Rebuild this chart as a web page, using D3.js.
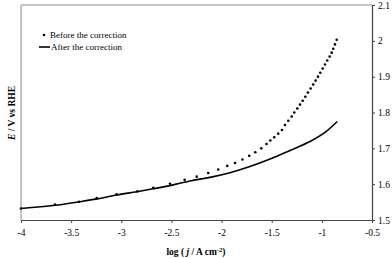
<!DOCTYPE html>
<html>
<head>
<meta charset="utf-8">
<script src="https://cdn.jsdelivr.net/npm/d3@7"></script>
<style>
  body { margin: 0; background: #fff; }
  svg { display: block; font-family: "Liberation Serif", "Times New Roman", serif; }
</style>
</head>
<body>
<div id="chart"></div>
<script>
// data: log(j / A cm-2) and E / V vs RHE
var beforeLogJ = [-4.0, -3.661, -3.422, -3.245, -3.046, -2.840, -2.681, -2.514, -2.368, -2.248,
  -2.133, -2.033, -1.943, -1.866, -1.792, -1.724, -1.664, -1.604, -1.552, -1.514,
  -1.475, -1.435, -1.398, -1.368, -1.335, -1.301, -1.275, -1.245, -1.218, -1.191,
  -1.165, -1.139, -1.112, -1.086, -1.062, -1.039, -1.016, -0.992, -0.969, -0.946,
  -0.922, -0.902, -0.886, -0.869, -0.852];
var beforeE = [1.532, 1.543, 1.551, 1.561, 1.572, 1.580, 1.590, 1.601, 1.612, 1.621,
  1.631, 1.641, 1.651, 1.659, 1.669, 1.679, 1.689, 1.700, 1.712, 1.722,
  1.731, 1.741, 1.751, 1.765, 1.777, 1.789, 1.800, 1.811, 1.822, 1.833,
  1.844, 1.856, 1.867, 1.878, 1.889, 1.900, 1.911, 1.923, 1.934, 1.945,
  1.956, 1.967, 1.978, 1.990, 2.003];

var afterLogJ = [-4.0, -3.661, -3.412, -3.242, -3.043, -2.843, -2.684, -2.514, -2.315, -2.116,
  -1.916, -1.717, -1.517, -1.318, -1.119, -0.949, -0.846];
var afterE = [1.532, 1.541, 1.551, 1.559, 1.570, 1.579, 1.587, 1.596, 1.609, 1.619,
  1.632, 1.649, 1.670, 1.694, 1.719, 1.749, 1.775];

var xTicks = [-4, -3.5, -3, -2.5, -2, -1.5, -1, -0.5];
var yTicks = [1.5, 1.6, 1.7, 1.8, 1.9, 2, 2.1];
var legendLabels = ["Before the correction", "After the correction"];

// settings
var margin = {top: 5, right: 20, bottom: 38, left: 21},
    width = 392 - margin.left - margin.right,
    height = 258 - margin.top - margin.bottom;

var svg = d3.select("#chart")
    .append("svg")
    .attr("width", width + margin.left + margin.right)
    .attr("height", height + margin.top + margin.bottom)
    .append("g")
    .attr("transform", "translate(" + margin.left + "," + margin.top + ")");

var x = d3.scaleLinear()
    .domain([-4, -0.5])
    .range([0, width]);

var y = d3.scaleLinear()
    .domain([1.5, 2.1])
    .range([height, 0]);

// top and left frame lines (grey)
svg.append("line")
    .attr("x1", 0).attr("x2", width)
    .attr("y1", 0).attr("y2", 0)
    .attr("stroke", "#8c8c8c").attr("stroke-width", 1);
svg.append("line")
    .attr("x1", 0).attr("x2", 0)
    .attr("y1", 0).attr("y2", height)
    .attr("stroke", "#8c8c8c").attr("stroke-width", 1);

var xAxis = svg.append("g")
    .attr("transform", "translate(0," + height + ")")
    .call(d3.axisBottom(x).tickValues(xTicks).tickSize(3).tickSizeOuter(0).tickPadding(6)
      .tickFormat(function (d) { return String(d); }));

var yAxis = svg.append("g")
    .attr("transform", "translate(" + width + ",0)")
    .call(d3.axisRight(y).tickValues(yTicks).tickSize(3).tickSizeOuter(0).tickPadding(3)
      .tickFormat(function (d) { return String(d); }));

[xAxis, yAxis].forEach(function (g) {
  g.select(".domain").attr("stroke", "#444").attr("stroke-width", 1.2);
  g.selectAll(".tick line").attr("stroke", "#444");
  g.selectAll("text")
    .attr("fill", "#000")
    .style("font-family", "'Liberation Serif', serif")
    .style("font-size", "9.5px");
});

// after the correction: solid line
var line = d3.line()
    .x(function (d) { return x(d[0]); })
    .y(function (d) { return y(d[1]); })
    .curve(d3.curveMonotoneX);

svg.append("path")
    .datum(d3.zip(afterLogJ, afterE))
    .attr("fill", "none")
    .attr("stroke", "#000")
    .attr("stroke-width", 1.6)
    .attr("d", line);

// before the correction: dots
svg.append("g")
    .selectAll("circle")
    .data(d3.zip(beforeLogJ, beforeE))
    .enter()
    .append("circle")
    .attr("cx", function (d) { return x(d[0]); })
    .attr("cy", function (d) { return y(d[1]); })
    .attr("r", 1.3)
    .attr("fill", "#000");

// legend
var legend = svg.append("g")
    .attr("transform", "translate(" + (44 - margin.left) + "," + (35 - margin.top) + ")");
legend.append("circle")
    .attr("cx", 0).attr("cy", 0).attr("r", 1.3).attr("fill", "#000");
legend.append("text")
    .attr("x", 6).attr("y", 2.8)
    .style("font-size", "9px")
    .text(legendLabels[0]);
legend.append("line")
    .attr("x1", -5).attr("x2", 6)
    .attr("y1", 12).attr("y2", 12)
    .attr("stroke", "#000").attr("stroke-width", 1.6);
legend.append("text")
    .attr("x", 7).attr("y", 14.5)
    .style("font-size", "9px")
    .text(legendLabels[1]);

// axis titles
var xTitle = svg.append("text")
    .attr("x", 196 - margin.left)
    .attr("y", 255 - margin.top)
    .attr("text-anchor", "middle")
    .style("font-size", "9.5px")
    .style("font-weight", "bold");
xTitle.append("tspan").text("log ( ");
xTitle.append("tspan").style("font-style", "italic").text("j");
xTitle.append("tspan").text(" / A cm");
xTitle.append("tspan").attr("dy", -3.5).style("font-size", "6.5px").text("-2");
xTitle.append("tspan").attr("dy", 3.5).text(")");

var yTitle = svg.append("g")
    .attr("transform", "translate(" + (15 - margin.left) + "," + (113 - margin.top) + ")")
    .append("text")
    .attr("text-anchor", "middle")
    .attr("transform", "rotate(-90)")
    .style("font-size", "9.5px")
    .style("font-weight", "bold");
yTitle.append("tspan").style("font-style", "italic").text("E");
yTitle.append("tspan").text(" / V vs RHE");
</script>
</body>
</html>
